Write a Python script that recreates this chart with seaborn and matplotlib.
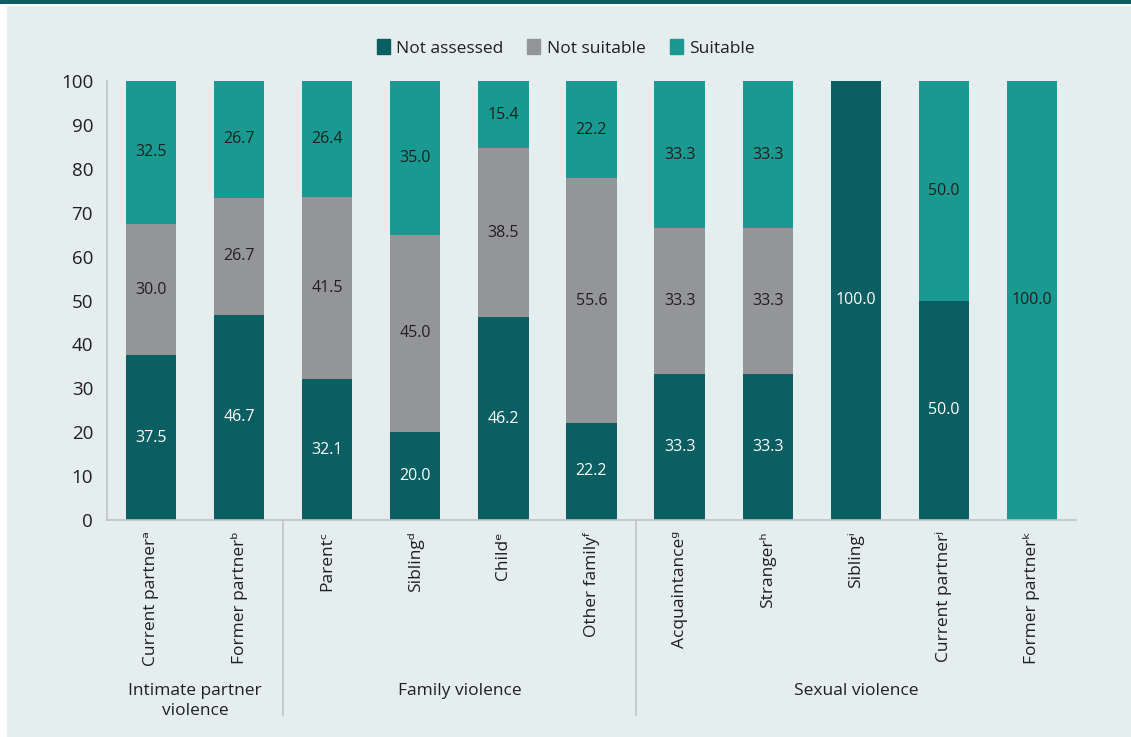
import matplotlib
matplotlib.use("Agg")
import matplotlib.pyplot as plt
import matplotlib.patches as mpatches
import matplotlib.transforms as mtransforms
import seaborn as sns
import pandas as pd
import numpy as np

categories = ["Current partner\u1d43", "Former partner\u1d47", "Parent\u1d9c", "Sibling\u1d48",
              "Child\u1d49", "Other family\u1da0", "Acquaintance\u1d4d", "Stranger\u02b0",
              "Sibling\u2071", "Current partner\u02b2", "Former partner\u1d4f"]
not_assessed = [37.5, 46.7, 32.1, 20.0, 46.2, 22.2, 33.3, 33.3, 100.0, 50.0, 0.0]
not_suitable = [30.0, 26.7, 41.5, 45.0, 38.5, 55.6, 33.3, 33.3, 0.0, 0.0, 0.0]
suitable = [32.5, 26.7, 26.4, 35.0, 15.4, 22.2, 33.3, 33.3, 0.0, 50.0, 100.0]
series_names = ["Not assessed", "Not suitable", "Suitable"]
groups = ["Intimate partner\nviolence", "Family violence", "Sexual violence"]
group_spans = [(0, 1), (2, 5), (6, 10)]

colors = ["#0b5f62", "#939598", "#1a9990"]
label_colors = ["white", "#231f20", "#231f20"]
bg = "#e4eeee"

sns.set_theme(style="white")
plt.rcParams["font.family"] = ["Open Sans", "DejaVu Sans"]

fig = plt.figure(figsize=(11.31, 7.37), dpi=100, facecolor="white")
fig.patches.append(mpatches.Rectangle((7 / 1131, 0), 1, 1 - 6 / 737, transform=fig.transFigure,
                                      facecolor=bg, edgecolor="none", zorder=-10))
fig.patches.append(mpatches.Rectangle((0, 1 - 4 / 737), 1, 4 / 737, transform=fig.transFigure,
                                      facecolor="#0b5f62", edgecolor="none", zorder=-10))
ax = fig.add_axes([107 / 1131, 1 - 520 / 737, (1076 - 107) / 1131, (520 - 81) / 737])
ax.set_facecolor("none")

df = pd.DataFrame({"cat": categories, "Not assessed": not_assessed,
                   "Not suitable": not_suitable, "Suitable": suitable})
bottom = np.zeros(len(categories))
for name, col, lc in zip(series_names, colors, label_colors):
    vals = df[name].to_numpy()
    n_before = len(ax.containers)
    sns.barplot(data=df, x="cat", y=name, color=col, width=0.57, bottom=bottom,
                ax=ax, saturation=1, edgecolor="none", linewidth=0)
    cont = ax.containers[n_before]
    labels = [f"{v:.1f}" if v > 0 else "" for v in vals]
    ax.bar_label(cont, labels=labels, label_type="center", color=lc, fontsize=11.5)
    bottom = bottom + vals

if ax.get_legend() is not None:
    ax.get_legend().remove()

ax.set_xlim(-0.5, len(categories) - 0.5)
ax.set_ylim(0, 100)
ax.set_yticks(range(0, 101, 10))
ax.tick_params(axis="y", labelsize=13.5, colors="#231f20", length=0, pad=10)
ax.tick_params(axis="x", labelsize=12.5, colors="#231f20", length=0, pad=8)
ax.set_xticks(range(len(categories)))
ax.set_xticklabels(categories, rotation=90, ha="center", va="top")
ax.set_xlabel("")
ax.set_ylabel("")
for s in ["top", "right"]:
    ax.spines[s].set_visible(False)
for s in ["left", "bottom"]:
    ax.spines[s].set_color("#bfc3c4")
    ax.spines[s].set_linewidth(1.2)

trans = mtransforms.blended_transform_factory(ax.transData, ax.transAxes)
for sep in [1.5, 5.5]:
    ax.plot([sep, sep], [0, -0.445], transform=trans, color="#bfc3c4", lw=1.2, clip_on=False)
for g, (a, b) in zip(groups, group_spans):
    ax.text((a + b) / 2, -0.372, g, transform=trans, ha="center", va="top",
            fontsize=12.5, color="#231f20", linespacing=1.3)

handles = [mpatches.Patch(color=c) for c in colors]
fig.legend(handles, series_names, loc="center", bbox_to_anchor=(0.5, 1 - 48 / 737), ncol=3,
           frameon=False, fontsize=12.5, handlelength=0.75, handleheight=0.9,
           handletextpad=0.35, columnspacing=1.4, labelcolor="#231f20")

fig.savefig("out.png", dpi=100, facecolor="white")
